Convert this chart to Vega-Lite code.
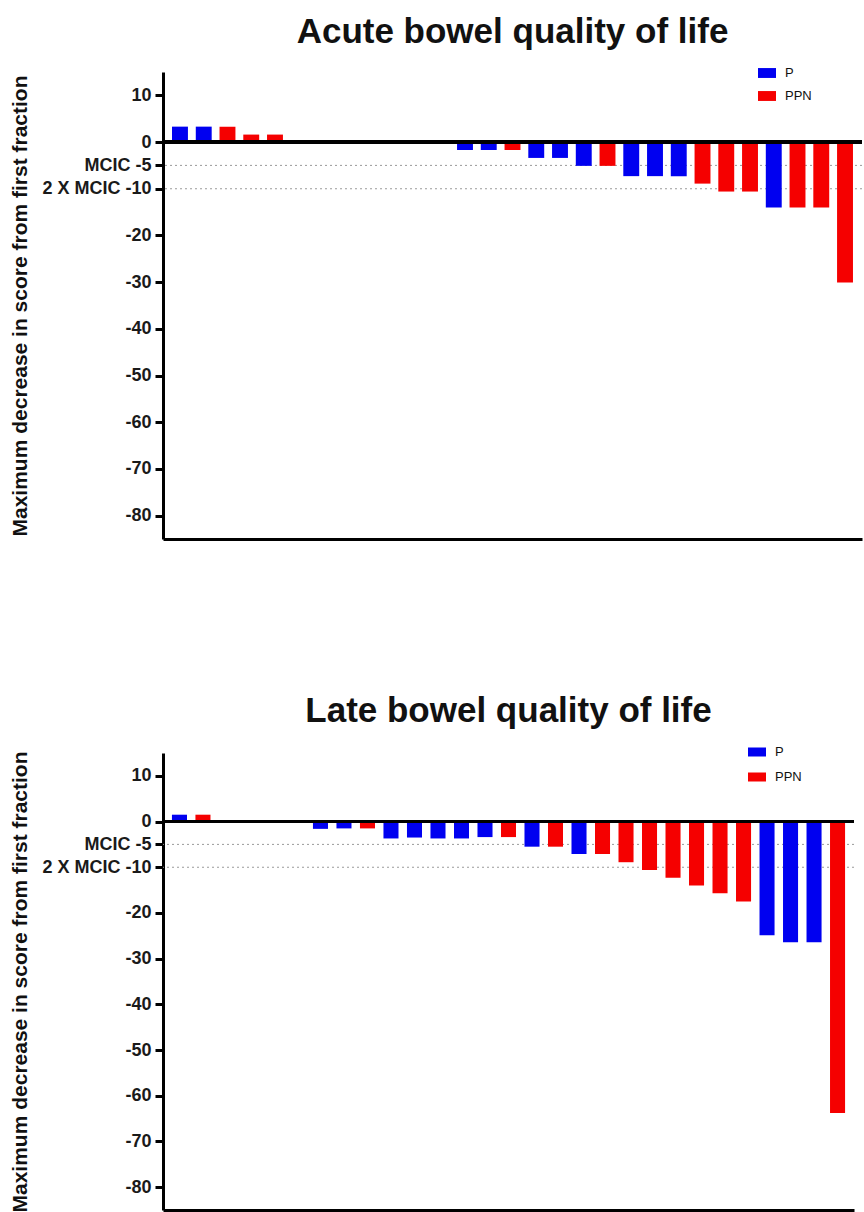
{
  "$schema": "https://vega.github.io/schema/vega-lite/v6.json",
  "background": "white",
  "padding": {"left": 9, "top": 15, "right": 0, "bottom": 0},
  "config": {
    "view": {"stroke": null},
    "font": "Liberation Sans",
    "axis": {"grid": false}
  },
  "datasets": {
    "acute": [
      {"rank": 1, "arm": "P", "change": 3.3},
      {"rank": 2, "arm": "P", "change": 3.3},
      {"rank": 3, "arm": "PPN", "change": 3.3},
      {"rank": 4, "arm": "PPN", "change": 1.6},
      {"rank": 5, "arm": "PPN", "change": 1.6},
      {"rank": 6, "arm": "P", "change": 0},
      {"rank": 7, "arm": "P", "change": 0},
      {"rank": 8, "arm": "P", "change": 0},
      {"rank": 9, "arm": "PPN", "change": 0},
      {"rank": 10, "arm": "PPN", "change": 0},
      {"rank": 11, "arm": "PPN", "change": 0},
      {"rank": 12, "arm": "PPN", "change": 0},
      {"rank": 13, "arm": "P", "change": -1.7},
      {"rank": 14, "arm": "P", "change": -1.7},
      {"rank": 15, "arm": "PPN", "change": -1.7},
      {"rank": 16, "arm": "P", "change": -3.4},
      {"rank": 17, "arm": "P", "change": -3.4},
      {"rank": 18, "arm": "P", "change": -5.1},
      {"rank": 19, "arm": "PPN", "change": -5.1},
      {"rank": 20, "arm": "P", "change": -7.3},
      {"rank": 21, "arm": "P", "change": -7.3},
      {"rank": 22, "arm": "P", "change": -7.3},
      {"rank": 23, "arm": "PPN", "change": -8.9},
      {"rank": 24, "arm": "PPN", "change": -10.6},
      {"rank": 25, "arm": "PPN", "change": -10.6},
      {"rank": 26, "arm": "P", "change": -14},
      {"rank": 27, "arm": "PPN", "change": -14},
      {"rank": 28, "arm": "PPN", "change": -14},
      {"rank": 29, "arm": "PPN", "change": -30.1}
    ],
    "late": [
      {"rank": 1, "arm": "P", "change": 1.5},
      {"rank": 2, "arm": "PPN", "change": 1.5},
      {"rank": 3, "arm": "P", "change": 0},
      {"rank": 4, "arm": "P", "change": 0},
      {"rank": 5, "arm": "PPN", "change": 0},
      {"rank": 6, "arm": "PPN", "change": 0},
      {"rank": 7, "arm": "P", "change": -1.6},
      {"rank": 8, "arm": "P", "change": -1.5},
      {"rank": 9, "arm": "PPN", "change": -1.5},
      {"rank": 10, "arm": "P", "change": -3.7},
      {"rank": 11, "arm": "P", "change": -3.5},
      {"rank": 12, "arm": "P", "change": -3.7},
      {"rank": 13, "arm": "P", "change": -3.7},
      {"rank": 14, "arm": "P", "change": -3.4},
      {"rank": 15, "arm": "PPN", "change": -3.4},
      {"rank": 16, "arm": "P", "change": -5.5},
      {"rank": 17, "arm": "PPN", "change": -5.5},
      {"rank": 18, "arm": "P", "change": -7.1},
      {"rank": 19, "arm": "PPN", "change": -7.1},
      {"rank": 20, "arm": "PPN", "change": -8.9},
      {"rank": 21, "arm": "PPN", "change": -10.6},
      {"rank": 22, "arm": "PPN", "change": -12.3},
      {"rank": 23, "arm": "PPN", "change": -14},
      {"rank": 24, "arm": "PPN", "change": -15.7},
      {"rank": 25, "arm": "PPN", "change": -17.5},
      {"rank": 26, "arm": "P", "change": -24.9},
      {"rank": 27, "arm": "P", "change": -26.4},
      {"rank": 28, "arm": "P", "change": -26.4},
      {"rank": 29, "arm": "PPN", "change": -63.8}
    ],
    "thresholds": [
      {"label": "MCIC", "score": -5},
      {"label": "2 X MCIC", "score": -10}
    ]
  },
  "vconcat": [
    {
      "title": {"text": "Acute bowel quality of life", "fontSize": 35, "fontWeight": "bold", "color": "#111111", "anchor": "middle", "frame": "group", "offset": 14},
      "width": 699,
      "height": 467,
      "data": {"name": "acute"},
      "layer": [
        {
          "data": {"name": "thresholds"},
          "mark": {"type": "rule", "color": "#9a9a9a", "strokeWidth": 1, "strokeDash": [2, 3]},
          "encoding": {"y": {"field": "score", "type": "quantitative"}}
        },
        {
          "mark": {"type": "bar"},
          "encoding": {
            "x": {
              "field": "rank", "type": "ordinal",
              "scale": {"paddingInner": 0.33, "paddingOuter": 0.38},
              "axis": {"title": null, "labels": false, "ticks": false, "domainWidth": 3, "domainColor": "#000000"}
            },
            "y": {
              "field": "change", "type": "quantitative",
              "scale": {"domain": [-85, 15], "nice": false},
              "axis": {
                "title": "Maximum decrease in score from first fraction",
                "titleFontSize": 21, "titleFontWeight": "bold", "titleColor": "#111111", "titlePadding": 11,
                "values": [10, 0, -5, -10, -20, -30, -40, -50, -60, -70, -80],
                "labelExpr": "datum.value == -5 ? 'MCIC -5' : datum.value == -10 ? '2 X MCIC -10' : '' + datum.value",
                "labelFontSize": 18, "labelFontWeight": "bold", "labelColor": "#1a1a1a", "labelPadding": 4, "labelOverlap": false,
                "tickSize": 8, "tickWidth": 3, "tickColor": "#000000",
                "domainWidth": 3, "domainColor": "#000000"
              }
            },
            "color": {
              "field": "arm", "type": "nominal",
              "scale": {"domain": ["P", "PPN"], "range": ["#0000f0", "#f50000"]},
              "legend": {
                "title": null, "orient": "none", "legendX": 595, "legendY": -8,
                "symbolType": "M-1,-0.55H1V0.55H-1Z", "symbolSize": 324, "symbolStrokeWidth": 0,
                "labelFontSize": 13, "labelColor": "#111111", "labelOffset": 9, "rowPadding": 7
              }
            }
          }
        },
        {
          "mark": {"type": "rule", "color": "#000000", "strokeWidth": 3},
          "encoding": {"y": {"datum": 0}}
        }
      ]
    },
    {
      "title": {"text": "Late bowel quality of life", "fontSize": 35, "fontWeight": "bold", "color": "#111111", "anchor": "middle", "frame": "group", "offset": 14},
      "width": 691,
      "height": 457,
      "data": {"name": "late"},
      "layer": [
        {
          "data": {"name": "thresholds"},
          "mark": {"type": "rule", "color": "#9a9a9a", "strokeWidth": 1, "strokeDash": [2, 3]},
          "encoding": {"y": {"field": "score", "type": "quantitative"}}
        },
        {
          "mark": {"type": "bar"},
          "encoding": {
            "x": {
              "field": "rank", "type": "ordinal",
              "scale": {"paddingInner": 0.36, "paddingOuter": 0.38},
              "axis": {"title": null, "labels": false, "ticks": false, "domainWidth": 3, "domainColor": "#000000"}
            },
            "y": {
              "field": "change", "type": "quantitative",
              "scale": {"domain": [-85, 15], "nice": false},
              "axis": {
                "title": "Maximum decrease in score from first fraction",
                "titleFontSize": 21, "titleFontWeight": "bold", "titleColor": "#111111", "titlePadding": 11,
                "values": [10, 0, -5, -10, -20, -30, -40, -50, -60, -70, -80],
                "labelExpr": "datum.value == -5 ? 'MCIC -5' : datum.value == -10 ? '2 X MCIC -10' : '' + datum.value",
                "labelFontSize": 18, "labelFontWeight": "bold", "labelColor": "#1a1a1a", "labelPadding": 4, "labelOverlap": false,
                "tickSize": 8, "tickWidth": 3, "tickColor": "#000000",
                "domainWidth": 3, "domainColor": "#000000"
              }
            },
            "color": {
              "field": "arm", "type": "nominal",
              "scale": {"domain": ["P", "PPN"], "range": ["#0000f0", "#f50000"]},
              "legend": {
                "title": null, "orient": "none", "legendX": 585, "legendY": -10,
                "symbolType": "M-1,-0.5H1V0.5H-1Z", "symbolSize": 324, "symbolStrokeWidth": 0,
                "labelFontSize": 13, "labelColor": "#111111", "labelOffset": 9, "rowPadding": 9
              }
            }
          }
        },
        {
          "mark": {"type": "rule", "color": "#000000", "strokeWidth": 3},
          "encoding": {"y": {"datum": 0}}
        }
      ]
    }
  ],
  "spacing": 214,
  "bounds": "flush",
  "resolve": {"scale": {"color": "independent"}, "legend": {"color": "independent"}}
}
